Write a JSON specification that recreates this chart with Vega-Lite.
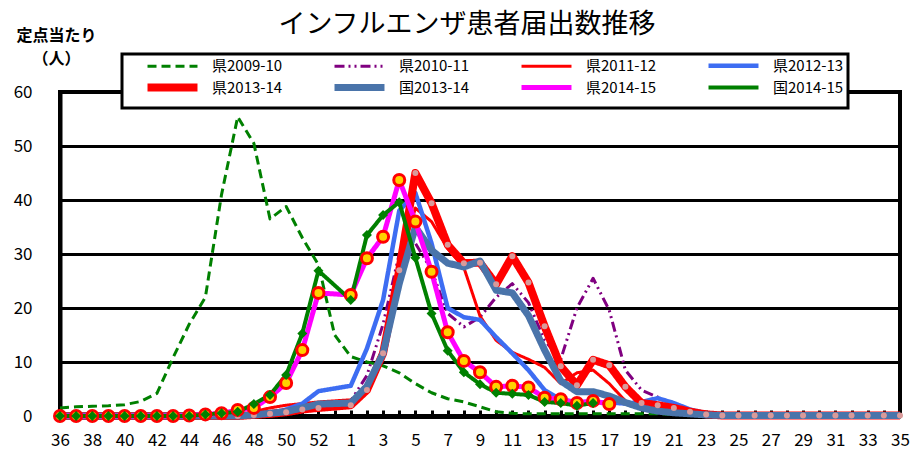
{
  "$schema": "https://vega.github.io/schema/vega-lite/v6.json",
  "width": 840,
  "height": 324,
  "autosize": {"type": "none"},
  "padding": {"left": 60, "top": 92, "right": 11, "bottom": 44},
  "background": "white",
  "title": {"text": "インフルエンザ患者届出数推移", "font": "Noto Sans CJK JP", "fontSize": 27, "fontWeight": "normal", "color": "black", "anchor": "middle", "dx": -13, "dy": 12, "offset": 0},
  "config": {
    "view": {"stroke": "black", "strokeWidth": 4},
    "font": "Noto Sans CJK JP"
  },
  "data": {"values": [
    {"series":"県2009-10","week":"36","value":1.5},{"series":"県2009-10","week":"37","value":1.7},{"series":"県2009-10","week":"38","value":1.8},{"series":"県2009-10","week":"39","value":1.9},{"series":"県2009-10","week":"40","value":2.1},{"series":"県2009-10","week":"41","value":2.7},{"series":"県2009-10","week":"42","value":4.2},{"series":"県2009-10","week":"43","value":10.8},{"series":"県2009-10","week":"44","value":17},{"series":"県2009-10","week":"45","value":22},{"series":"県2009-10","week":"46","value":41},{"series":"県2009-10","week":"47","value":55.4},{"series":"県2009-10","week":"48","value":50.5},{"series":"県2009-10","week":"49","value":36.5},{"series":"県2009-10","week":"50","value":38.8},{"series":"県2009-10","week":"51","value":33},{"series":"県2009-10","week":"52","value":28},{"series":"県2009-10","week":"53","value":15},{"series":"県2009-10","week":"1","value":11},{"series":"県2009-10","week":"2","value":10},{"series":"県2009-10","week":"3","value":9.3},{"series":"県2009-10","week":"4","value":8},{"series":"県2009-10","week":"5","value":6},{"series":"県2009-10","week":"6","value":4.3},{"series":"県2009-10","week":"7","value":3.2},{"series":"県2009-10","week":"8","value":2.6},{"series":"県2009-10","week":"9","value":1.7},{"series":"県2009-10","week":"10","value":0.8},{"series":"県2009-10","week":"11","value":0.5},{"series":"県2009-10","week":"12","value":0.4},{"series":"県2009-10","week":"13","value":0.4},{"series":"県2009-10","week":"14","value":0.4},{"series":"県2009-10","week":"15","value":0.4},{"series":"県2009-10","week":"16","value":0.4},{"series":"県2009-10","week":"17","value":0.4},{"series":"県2009-10","week":"18","value":0.4},{"series":"県2009-10","week":"19","value":0.4},{"series":"県2009-10","week":"20","value":0.4},{"series":"県2009-10","week":"21","value":0.3},{"series":"県2009-10","week":"22","value":0.3},{"series":"県2009-10","week":"23","value":0.3},{"series":"県2009-10","week":"24","value":0.3},{"series":"県2009-10","week":"25","value":0.3},{"series":"県2009-10","week":"26","value":0.3},{"series":"県2009-10","week":"27","value":0.3},{"series":"県2009-10","week":"28","value":0.3},{"series":"県2009-10","week":"29","value":0.3},{"series":"県2009-10","week":"30","value":0.3},{"series":"県2009-10","week":"31","value":0.3},{"series":"県2009-10","week":"32","value":0.3},{"series":"県2009-10","week":"33","value":0.3},{"series":"県2009-10","week":"34","value":0.3},{"series":"県2009-10","week":"35","value":0.3},
    {"series":"県2010-11","week":"36","value":0.1},{"series":"県2010-11","week":"37","value":0.1},{"series":"県2010-11","week":"38","value":0.1},{"series":"県2010-11","week":"39","value":0.1},{"series":"県2010-11","week":"40","value":0.1},{"series":"県2010-11","week":"41","value":0.1},{"series":"県2010-11","week":"42","value":0.1},{"series":"県2010-11","week":"43","value":0.1},{"series":"県2010-11","week":"44","value":0.1},{"series":"県2010-11","week":"45","value":0.1},{"series":"県2010-11","week":"46","value":0.1},{"series":"県2010-11","week":"47","value":0.1},{"series":"県2010-11","week":"48","value":0.2},{"series":"県2010-11","week":"49","value":0.3},{"series":"県2010-11","week":"50","value":0.5},{"series":"県2010-11","week":"51","value":0.8},{"series":"県2010-11","week":"52","value":1.3},{"series":"県2010-11","week":"1","value":2.8},{"series":"県2010-11","week":"2","value":7.5},{"series":"県2010-11","week":"3","value":17},{"series":"県2010-11","week":"4","value":30},{"series":"県2010-11","week":"5","value":32},{"series":"県2010-11","week":"6","value":27},{"series":"県2010-11","week":"7","value":19},{"series":"県2010-11","week":"8","value":16.5},{"series":"県2010-11","week":"9","value":18.3},{"series":"県2010-11","week":"10","value":22},{"series":"県2010-11","week":"11","value":24.5},{"series":"県2010-11","week":"12","value":21},{"series":"県2010-11","week":"13","value":14},{"series":"県2010-11","week":"14","value":10.5},{"series":"県2010-11","week":"15","value":20},{"series":"県2010-11","week":"16","value":25.5},{"series":"県2010-11","week":"17","value":19.6},{"series":"県2010-11","week":"18","value":8.5},{"series":"県2010-11","week":"19","value":4.8},{"series":"県2010-11","week":"20","value":3.5},{"series":"県2010-11","week":"21","value":2},{"series":"県2010-11","week":"22","value":1},{"series":"県2010-11","week":"23","value":0.5},{"series":"県2010-11","week":"24","value":0.2},{"series":"県2010-11","week":"25","value":0.2},{"series":"県2010-11","week":"26","value":0.2},{"series":"県2010-11","week":"27","value":0.2},{"series":"県2010-11","week":"28","value":0.2},{"series":"県2010-11","week":"29","value":0.2},{"series":"県2010-11","week":"30","value":0.2},{"series":"県2010-11","week":"31","value":0.2},{"series":"県2010-11","week":"32","value":0.2},{"series":"県2010-11","week":"33","value":0.2},{"series":"県2010-11","week":"34","value":0.2},{"series":"県2010-11","week":"35","value":0.2},
    {"series":"県2011-12","week":"36","value":0},{"series":"県2011-12","week":"37","value":0},{"series":"県2011-12","week":"38","value":0},{"series":"県2011-12","week":"39","value":0},{"series":"県2011-12","week":"40","value":0},{"series":"県2011-12","week":"41","value":0},{"series":"県2011-12","week":"42","value":0},{"series":"県2011-12","week":"43","value":0},{"series":"県2011-12","week":"44","value":0},{"series":"県2011-12","week":"45","value":0},{"series":"県2011-12","week":"46","value":0},{"series":"県2011-12","week":"47","value":0},{"series":"県2011-12","week":"48","value":0.8},{"series":"県2011-12","week":"49","value":1.5},{"series":"県2011-12","week":"50","value":2.0},{"series":"県2011-12","week":"51","value":2.3},{"series":"県2011-12","week":"52","value":2.6},{"series":"県2011-12","week":"1","value":3.0},{"series":"県2011-12","week":"2","value":4.8},{"series":"県2011-12","week":"3","value":12.8},{"series":"県2011-12","week":"4","value":28},{"series":"県2011-12","week":"5","value":38.5},{"series":"県2011-12","week":"6","value":36},{"series":"県2011-12","week":"7","value":31},{"series":"県2011-12","week":"8","value":27.5},{"series":"県2011-12","week":"9","value":18.5},{"series":"県2011-12","week":"10","value":14},{"series":"県2011-12","week":"11","value":11.8},{"series":"県2011-12","week":"12","value":10.5},{"series":"県2011-12","week":"13","value":9},{"series":"県2011-12","week":"14","value":6},{"series":"県2011-12","week":"15","value":8},{"series":"県2011-12","week":"16","value":8.5},{"series":"県2011-12","week":"17","value":6},{"series":"県2011-12","week":"18","value":2.8},{"series":"県2011-12","week":"19","value":1.5},{"series":"県2011-12","week":"20","value":1},{"series":"県2011-12","week":"21","value":0.6},{"series":"県2011-12","week":"22","value":0.4},{"series":"県2011-12","week":"23","value":0.2},{"series":"県2011-12","week":"24","value":0.1},{"series":"県2011-12","week":"25","value":0.1},{"series":"県2011-12","week":"26","value":0.1},{"series":"県2011-12","week":"27","value":0.1},{"series":"県2011-12","week":"28","value":0.1},{"series":"県2011-12","week":"29","value":0.1},{"series":"県2011-12","week":"30","value":0.1},{"series":"県2011-12","week":"31","value":0.1},{"series":"県2011-12","week":"32","value":0.1},{"series":"県2011-12","week":"33","value":0.1},{"series":"県2011-12","week":"34","value":0.1},{"series":"県2011-12","week":"35","value":0.1},
    {"series":"県2012-13","week":"36","value":0},{"series":"県2012-13","week":"37","value":0},{"series":"県2012-13","week":"38","value":0},{"series":"県2012-13","week":"39","value":0},{"series":"県2012-13","week":"40","value":0},{"series":"県2012-13","week":"41","value":0},{"series":"県2012-13","week":"42","value":0},{"series":"県2012-13","week":"43","value":0},{"series":"県2012-13","week":"44","value":0},{"series":"県2012-13","week":"45","value":0},{"series":"県2012-13","week":"46","value":0},{"series":"県2012-13","week":"47","value":0},{"series":"県2012-13","week":"48","value":0.2},{"series":"県2012-13","week":"49","value":0.5},{"series":"県2012-13","week":"50","value":1.2},{"series":"県2012-13","week":"51","value":2.3},{"series":"県2012-13","week":"52","value":4.6},{"series":"県2012-13","week":"1","value":5.6},{"series":"県2012-13","week":"2","value":12.5},{"series":"県2012-13","week":"3","value":21.5},{"series":"県2012-13","week":"4","value":38},{"series":"県2012-13","week":"5","value":41.3},{"series":"県2012-13","week":"6","value":32},{"series":"県2012-13","week":"7","value":20},{"series":"県2012-13","week":"8","value":18.3},{"series":"県2012-13","week":"9","value":17.8},{"series":"県2012-13","week":"10","value":14.6},{"series":"県2012-13","week":"11","value":11.6},{"series":"県2012-13","week":"12","value":8.5},{"series":"県2012-13","week":"13","value":4.8},{"series":"県2012-13","week":"14","value":3},{"series":"県2012-13","week":"15","value":2.6},{"series":"県2012-13","week":"16","value":2.6},{"series":"県2012-13","week":"17","value":2.5},{"series":"県2012-13","week":"18","value":2.3},{"series":"県2012-13","week":"19","value":2.6},{"series":"県2012-13","week":"20","value":3.3},{"series":"県2012-13","week":"21","value":2.4},{"series":"県2012-13","week":"22","value":1.2},{"series":"県2012-13","week":"23","value":0.5},{"series":"県2012-13","week":"24","value":0.2},{"series":"県2012-13","week":"25","value":0.2},{"series":"県2012-13","week":"26","value":0.2},{"series":"県2012-13","week":"27","value":0.2},{"series":"県2012-13","week":"28","value":0.2},{"series":"県2012-13","week":"29","value":0.2},{"series":"県2012-13","week":"30","value":0.2},{"series":"県2012-13","week":"31","value":0.2},{"series":"県2012-13","week":"32","value":0.2},{"series":"県2012-13","week":"33","value":0.2},{"series":"県2012-13","week":"34","value":0.2},{"series":"県2012-13","week":"35","value":0.2},
    {"series":"県2013-14","week":"36","value":0},{"series":"県2013-14","week":"37","value":0},{"series":"県2013-14","week":"38","value":0},{"series":"県2013-14","week":"39","value":0},{"series":"県2013-14","week":"40","value":0},{"series":"県2013-14","week":"41","value":0},{"series":"県2013-14","week":"42","value":0},{"series":"県2013-14","week":"43","value":0},{"series":"県2013-14","week":"44","value":0},{"series":"県2013-14","week":"45","value":0},{"series":"県2013-14","week":"46","value":0},{"series":"県2013-14","week":"47","value":0},{"series":"県2013-14","week":"48","value":0.2},{"series":"県2013-14","week":"49","value":0.4},{"series":"県2013-14","week":"50","value":0.7},{"series":"県2013-14","week":"51","value":1.2},{"series":"県2013-14","week":"52","value":1.5},{"series":"県2013-14","week":"1","value":2},{"series":"県2013-14","week":"2","value":4.8},{"series":"県2013-14","week":"3","value":11.6},{"series":"県2013-14","week":"4","value":27},{"series":"県2013-14","week":"5","value":45},{"series":"県2013-14","week":"6","value":39.4},{"series":"県2013-14","week":"7","value":31.7},{"series":"県2013-14","week":"8","value":28.3},{"series":"県2013-14","week":"9","value":28.4},{"series":"県2013-14","week":"10","value":24.4},{"series":"県2013-14","week":"11","value":29.6},{"series":"県2013-14","week":"12","value":24.7},{"series":"県2013-14","week":"13","value":16.6},{"series":"県2013-14","week":"14","value":9.2},{"series":"県2013-14","week":"15","value":5.7},{"series":"県2013-14","week":"16","value":10.4},{"series":"県2013-14","week":"17","value":9.4},{"series":"県2013-14","week":"18","value":5.4},{"series":"県2013-14","week":"19","value":2.4},{"series":"県2013-14","week":"20","value":2},{"series":"県2013-14","week":"21","value":1.5},{"series":"県2013-14","week":"22","value":0.8},{"series":"県2013-14","week":"23","value":0.3},{"series":"県2013-14","week":"24","value":0.1},{"series":"県2013-14","week":"25","value":0.1},{"series":"県2013-14","week":"26","value":0.1},{"series":"県2013-14","week":"27","value":0.1},{"series":"県2013-14","week":"28","value":0.1},{"series":"県2013-14","week":"29","value":0.1},{"series":"県2013-14","week":"30","value":0.1},{"series":"県2013-14","week":"31","value":0.1},{"series":"県2013-14","week":"32","value":0.1},{"series":"県2013-14","week":"33","value":0.1},{"series":"県2013-14","week":"34","value":0.1},{"series":"県2013-14","week":"35","value":0.1},
    {"series":"国2013-14","week":"36","value":0},{"series":"国2013-14","week":"37","value":0},{"series":"国2013-14","week":"38","value":0},{"series":"国2013-14","week":"39","value":0},{"series":"国2013-14","week":"40","value":0},{"series":"国2013-14","week":"41","value":0},{"series":"国2013-14","week":"42","value":0},{"series":"国2013-14","week":"43","value":0},{"series":"国2013-14","week":"44","value":0},{"series":"国2013-14","week":"45","value":0},{"series":"国2013-14","week":"46","value":0},{"series":"国2013-14","week":"47","value":0},{"series":"国2013-14","week":"48","value":0.2},{"series":"国2013-14","week":"49","value":0.5},{"series":"国2013-14","week":"50","value":0.8},{"series":"国2013-14","week":"51","value":1.5},{"series":"国2013-14","week":"52","value":2.2},{"series":"国2013-14","week":"1","value":2.4},{"series":"国2013-14","week":"2","value":5.5},{"series":"国2013-14","week":"3","value":11.6},{"series":"国2013-14","week":"4","value":24.5},{"series":"国2013-14","week":"5","value":35},{"series":"国2013-14","week":"6","value":30.7},{"series":"国2013-14","week":"7","value":28.3},{"series":"国2013-14","week":"8","value":27.6},{"series":"国2013-14","week":"9","value":28.7},{"series":"国2013-14","week":"10","value":23.3},{"series":"国2013-14","week":"11","value":22.8},{"series":"国2013-14","week":"12","value":18.6},{"series":"国2013-14","week":"13","value":12.2},{"series":"国2013-14","week":"14","value":6.5},{"series":"国2013-14","week":"15","value":4.5},{"series":"国2013-14","week":"16","value":4.5},{"series":"国2013-14","week":"17","value":3.7},{"series":"国2013-14","week":"18","value":2.5},{"series":"国2013-14","week":"19","value":1.5},{"series":"国2013-14","week":"20","value":0.9},{"series":"国2013-14","week":"21","value":0.6},{"series":"国2013-14","week":"22","value":0.4},{"series":"国2013-14","week":"23","value":0.2},{"series":"国2013-14","week":"24","value":0.1},{"series":"国2013-14","week":"25","value":0.1},{"series":"国2013-14","week":"26","value":0.1},{"series":"国2013-14","week":"27","value":0.1},{"series":"国2013-14","week":"28","value":0.1},{"series":"国2013-14","week":"29","value":0.1},{"series":"国2013-14","week":"30","value":0.1},{"series":"国2013-14","week":"31","value":0.1},{"series":"国2013-14","week":"32","value":0.1},{"series":"国2013-14","week":"33","value":0.1},{"series":"国2013-14","week":"34","value":0.1},{"series":"国2013-14","week":"35","value":0.1},
    {"series":"県2014-15","week":"36","value":0},{"series":"県2014-15","week":"37","value":0},{"series":"県2014-15","week":"38","value":0},{"series":"県2014-15","week":"39","value":0},{"series":"県2014-15","week":"40","value":0},{"series":"県2014-15","week":"41","value":0},{"series":"県2014-15","week":"42","value":0},{"series":"県2014-15","week":"43","value":0},{"series":"県2014-15","week":"44","value":0.1},{"series":"県2014-15","week":"45","value":0.3},{"series":"県2014-15","week":"46","value":0.5},{"series":"県2014-15","week":"47","value":1.1},{"series":"県2014-15","week":"48","value":1.5},{"series":"県2014-15","week":"49","value":3.5},{"series":"県2014-15","week":"50","value":6.1},{"series":"県2014-15","week":"51","value":12.2},{"series":"県2014-15","week":"52","value":22.8},{"series":"県2014-15","week":"1","value":22.4},{"series":"県2014-15","week":"2","value":29.2},{"series":"県2014-15","week":"3","value":33.2},{"series":"県2014-15","week":"4","value":43.7},{"series":"県2014-15","week":"5","value":36},{"series":"県2014-15","week":"6","value":26.7},{"series":"県2014-15","week":"7","value":15.5},{"series":"県2014-15","week":"8","value":10.2},{"series":"県2014-15","week":"9","value":8.1},{"series":"県2014-15","week":"10","value":5.4},{"series":"県2014-15","week":"11","value":5.6},{"series":"県2014-15","week":"12","value":5.3},{"series":"県2014-15","week":"13","value":3.4},{"series":"県2014-15","week":"14","value":3.1},{"series":"県2014-15","week":"15","value":2.4},{"series":"県2014-15","week":"16","value":2.8},{"series":"県2014-15","week":"17","value":2.2},
    {"series":"国2014-15","week":"36","value":0},{"series":"国2014-15","week":"37","value":0},{"series":"国2014-15","week":"38","value":0},{"series":"国2014-15","week":"39","value":0},{"series":"国2014-15","week":"40","value":0},{"series":"国2014-15","week":"41","value":0},{"series":"国2014-15","week":"42","value":0},{"series":"国2014-15","week":"43","value":0},{"series":"国2014-15","week":"44","value":0},{"series":"国2014-15","week":"45","value":0.3},{"series":"国2014-15","week":"46","value":0.5},{"series":"国2014-15","week":"47","value":0.8},{"series":"国2014-15","week":"48","value":2.2},{"series":"国2014-15","week":"49","value":3.9},{"series":"国2014-15","week":"50","value":7.6},{"series":"国2014-15","week":"51","value":15.3},{"series":"国2014-15","week":"52","value":26.9},{"series":"国2014-15","week":"1","value":21.5},{"series":"国2014-15","week":"2","value":33.5},{"series":"国2014-15","week":"3","value":37.2},{"series":"国2014-15","week":"4","value":39.6},{"series":"国2014-15","week":"5","value":29.3},{"series":"国2014-15","week":"6","value":19},{"series":"国2014-15","week":"7","value":12.1},{"series":"国2014-15","week":"8","value":8.1},{"series":"国2014-15","week":"9","value":5.9},{"series":"国2014-15","week":"10","value":4.3},{"series":"国2014-15","week":"11","value":4.1},{"series":"国2014-15","week":"12","value":3.9},{"series":"国2014-15","week":"13","value":2.6},{"series":"国2014-15","week":"14","value":2.4},{"series":"国2014-15","week":"15","value":1.9},{"series":"国2014-15","week":"16","value":2.4}
  ]},
  "encoding": {
    "x": {
      "field": "week", "type": "ordinal",
      "sort": ["36","37","38","39","40","41","42","43","44","45","46","47","48","49","50","51","52","53","1","2","3","4","5","6","7","8","9","10","11","12","13","14","15","16","17","18","19","20","21","22","23","24","25","26","27","28","29","30","31","32","33","34","35"],
      "scale": {"type": "point", "padding": 0},
      "axis": {
        "title": null, "labelAngle": 0, "labelFont": "Noto Sans CJK JP", "labelFontSize": 17, "labelColor": "black",
        "labelPadding": 22, "tickSize": -6, "tickWidth": 3, "tickColor": "black", "domainColor": "black", "domainWidth": 5, "grid": false,
        "labelExpr": "indexof(['36','38','40','42','44','46','48','50','52','1','3','5','7','9','11','13','15','17','19','21','23','25','27','29','31','33','35'], datum.value) >= 0 ? datum.label : ''"
      }
    },
    "y": {
      "field": "value", "type": "quantitative",
      "scale": {"domain": [0, 60], "nice": false, "zero": true},
      "axis": {
        "values": [0, 10, 20, 30, 40, 50, 60],
        "grid": true, "gridColor": "black", "gridWidth": 3, "gridOpacity": 1, "tickSize": 0,
        "domainColor": "black", "domainWidth": 4,
        "labelFont": "Noto Sans CJK JP", "labelFontSize": 17, "labelColor": "black", "labelPadding": 28,
        "title": ["定点当たり", "（人）"], "titleAngle": 0, "titleX": -4, "titleY": -65, "titleAlign": "center", "titleBaseline": "top",
        "titleFont": "Noto Sans CJK JP", "titleFontSize": 16, "titleFontWeight": "bold", "titleColor": "black", "titleLineHeight": 23
      }
    }
  },
  "layer": [
    {
      "mark": {"type": "line", "strokeJoin": "round"},
      "encoding": {
        "color": {
          "field": "series", "type": "nominal",
          "scale": {"domain": ["県2009-10","県2010-11","県2011-12","県2012-13","県2013-14","国2013-14","県2014-15","国2014-15"],
                    "range": ["#008000","#800080","#FF0000","#3D6DF2","#FF0000","#4A74AA","#FF00FF","#008000"]},
          "legend": {
            "orient": "none", "legendX": 62, "legendY": -38, "columns": 4, "direction": "horizontal", "title": null,
            "symbolType": "M-8.33,0L8.33,0", "symbolSize": 36, "symbolOffset": 39,
            "labelFont": "Noto Sans CJK JP", "labelFontSize": 15, "labelColor": "black", "labelOffset": 32,
            "labelExpr": "datum.label + '　 '",
            "columnPadding": 30, "rowPadding": -4, "padding": 4,
            "fillColor": "white", "strokeColor": "black",
            "encode": {
              "legend": {"update": {"strokeWidth": {"value": 3}}}
            }
          }
        },
        "strokeDash": {
          "field": "series", "type": "nominal",
          "scale": {"domain": ["県2009-10","県2010-11","県2011-12","県2012-13","県2013-14","国2013-14","県2014-15","国2014-15"],
                    "range": [[9,5],[10,4,2,4,2,4],[1,0],[1,0],[1,0],[1,0],[1,0],[1,0]]}
        },
        "strokeWidth": {
          "field": "series", "type": "nominal",
          "scale": {"type": "ordinal", "domain": ["県2009-10","県2010-11","県2011-12","県2012-13","県2013-14","国2013-14","県2014-15","国2014-15"],
                    "range": [3,3,3,4.5,8,7,5,4]}
        }
      }
    },
    {
      "transform": [{"filter": "datum.series === '県2013-14'"}],
      "mark": {"type": "point", "shape": "circle", "filled": true, "fill": "#D99A9A", "size": 36, "opacity": 1, "strokeWidth": 0}
    },
    {
      "transform": [{"filter": "datum.series === '県2014-15'"}],
      "mark": {"type": "point", "shape": "circle", "filled": false, "fill": "#FFD200", "fillOpacity": 1, "stroke": "#FF0000", "strokeWidth": 3, "size": 121, "opacity": 1}
    },
    {
      "transform": [{"filter": "datum.series === '国2014-15'"}],
      "mark": {"type": "point", "shape": "diamond", "filled": true, "fill": "#008000", "size": 100, "opacity": 1, "strokeWidth": 0}
    }
  ]
}
